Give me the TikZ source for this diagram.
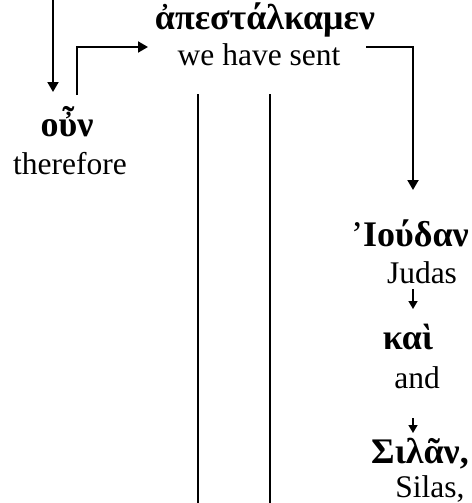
\documentclass[tikz,border=0pt]{standalone}
\usepackage{fontspec}
\setmainfont{Liberation Serif}
\newfontfamily\grkfont{Liberation Serif}
\usetikzlibrary{arrows.meta}
\begin{document}
\begin{tikzpicture}[x=1pt,y=-1pt,
  eng/.style={font=\fontsize{31.5}{36}\selectfont, inner sep=0pt, anchor=base},
  grk/.style={font=\grkfont\fontsize{36}{40}\selectfont\bfseries, inner sep=0pt, anchor=base},
  arr/.style={line width=2pt, -{Triangle[length=10pt,width=11pt]}},
  sarr/.style={line width=1.5pt, -{Triangle[length=8pt,width=9pt]}},
  ln/.style={line width=2pt}]
\useasboundingbox (0,0) rectangle (471,503);
% words
\node[grk] (apest) at (265,30) {ἀπεστάλκαμεν};
\node[eng] (sent) at (259,66) {we have sent};
\node[grk] (oun) at (67,136) {οὖν};
\node[eng] (therefore) at (70,174) {therefore};
\node[grk] (iouda) at (410,246) {{\mdseries ’}Ιούδαν};
\node[eng] (judas) at (422,283) {Judas};
\node[grk] (kai) at (408,349) {καὶ};
\node[eng] (and) at (417,388) {and};
\node[grk] (sila) at (420,463) {Σιλᾶν,};
\node[eng] (silas) at (430,497) {Silas,};
% connector end points
\coordinate (in0) at (53,-5);
\coordinate (in1) at (53,92);
\coordinate (o0) at (77,95);
\coordinate (o1) at (148,47);
\coordinate (s0) at (366,47);
\coordinate (s1) at (413,190);
\coordinate (j0) at (413,289);
\coordinate (j1) at (413,309);
\coordinate (k0) at (413,418);
\coordinate (k1) at (413,433);
\coordinate (v1a) at (198,94);
\coordinate (v1b) at (198,510);
\coordinate (v2a) at (270,94);
\coordinate (v2b) at (270,510);
% connectors
\draw[arr] (in0) -- (in1);
\draw[arr] (o0) |- (o1);
\draw[arr] (s0) -| (s1);
\draw[sarr] (j0) -- (j1);
\draw[sarr] (k0) -- (k1);
\draw[ln] (v1a) -- (v1b);
\draw[ln] (v2a) -- (v2b);
\end{tikzpicture}
\end{document}
